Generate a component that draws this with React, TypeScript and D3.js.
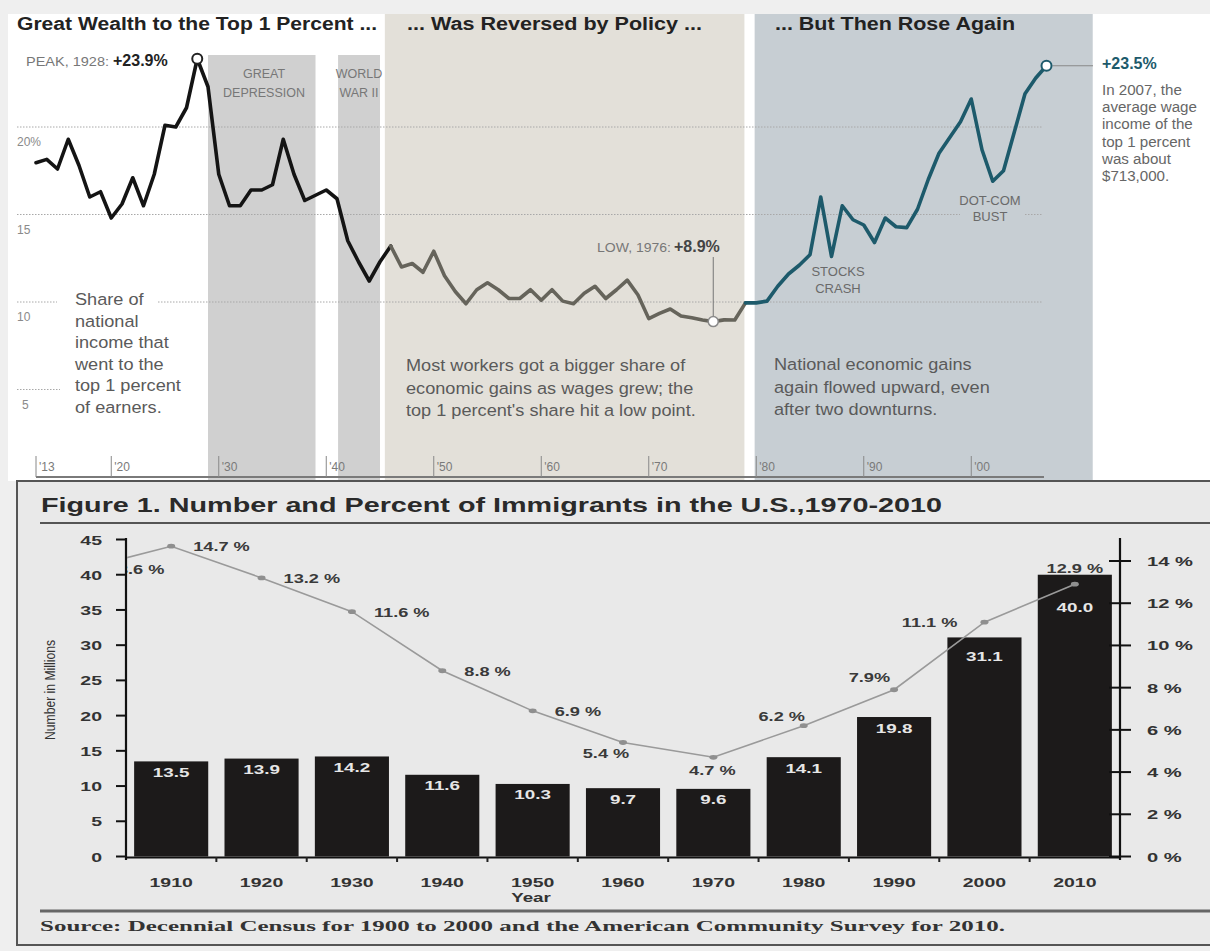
import React from 'react';
import * as d3 from 'd3';

// ---------- Top chart data: share of national income to top 1% ----------
const shareStartYear = 1913;
const topShare = [
  17.96, 18.15, 17.6, 19.3, 17.8, 16.0, 16.3, 14.8, 15.6, 17.1, // 1913-1922
  15.5, 17.3, 20.1, 20.0, 21.1, 23.9, 22.3, 17.3, 15.5, 15.5, // 1923-1932
  16.4, 16.4, 16.7, 19.3, 17.3, 15.8, 16.1, 16.4, 15.9, 13.5, // 1933-1942
  12.3, 11.2, 12.3, 13.2, 12.0, 12.2, 11.7, 12.9, 11.5, 10.6, // 1943-1952
  9.9, 10.7, 11.1, 10.7, 10.2, 10.2, 10.7, 10.1, 10.7, 10.05, // 1953-1962
  9.9, 10.5, 10.9, 10.2, 10.7, 11.25, 10.4, 9.05, 9.35, 9.6, // 1963-1972
  9.2, 9.1, 8.97, 8.88, 8.98, 8.97, 9.95, 9.95, 10.05, 10.9, // 1973-1982
  11.6, 12.1, 12.7, 16.0, 12.6, 15.5, 14.7, 14.4, 13.4, 14.8, // 1983-1992
  14.3, 14.25, 15.3, 17.0, 18.5, 19.4, 20.3, 21.6, 18.7, 16.9, // 1993-2002
  17.5, 19.7, 21.9, 22.8, 23.5, // 2003-2007
];
const topTickYears = [1913, 1920, 1930, 1940, 1950, 1960, 1970, 1980, 1990, 2000];
const topTickLabels = ["'13", "'20", "'30", "'40", "'50", "'60", "'70", "'80", "'90", "'00"];
const topGridValues = [20, 15, 10, 5];
const topGridLabels = ['20%', '15', '10', '5'];

// ---------- Bottom chart data: immigrants in the U.S. ----------
const immYears = ['1910', '1920', '1930', '1940', '1950', '1960', '1970', '1980', '1990', '2000', '2010'];
const immMillions = [13.5, 13.9, 14.2, 11.6, 10.3, 9.7, 9.6, 14.1, 19.8, 31.1, 40.0];
const pctYears = [1900, 1910, 1920, 1930, 1940, 1950, 1960, 1970, 1980, 1990, 2000, 2010];
const immPercent = [13.6, 14.7, 13.2, 11.6, 8.8, 6.9, 5.4, 4.7, 6.2, 7.9, 11.1, 12.9];
const pctLabels = ['13.6 %', '14.7 %', '13.2 %', '11.6 %', '8.8 %', '6.9 %', '5.4 %', '4.7 %', '6.2 %', '7.9%', '11.1 %', '12.9 %'];
const leftTicks = [0, 5, 10, 15, 20, 25, 30, 35, 40, 45];
const rightTicks = [0, 2, 4, 6, 8, 10, 12, 14];

const SANS = '"Liberation Sans", Arial, Helvetica, sans-serif';
const SERIF = '"Liberation Serif", "Times New Roman", serif';

function SText(props: any) {
  const { x, y, sx = 1, anchor = 'start', children, ...rest } = props;
  return (
    <text transform={`translate(${x},${y}) scale(${sx},1)`} textAnchor={anchor} {...rest}>
      {children}
    </text>
  );
}

export default function App() {
  // ---------- top scales ----------
  const topX = d3.scaleLinear().domain([1913, 2007]).range([36, 1046.5]);
  const topY = d3.scaleLinear().domain([5, 20]).range([389.5, 127]);
  const pts: [number, number][] = topShare.map((v, i) => [shareStartYear + i, v]);
  const line = d3
    .line<[number, number]>()
    .x((d) => topX(d[0]))
    .y((d) => topY(d[1]));
  const seg = (a: number, b: number) => line(pts.filter((d) => d[0] >= a && d[0] <= b)) || '';
  const val = (yr: number) => topShare[yr - shareStartYear];

  // ---------- bottom scales ----------
  const band = d3.scaleBand<string>().domain(immYears).range([126, 1120]).paddingInner(0.18).paddingOuter(0.09);
  const yL = d3.scaleLinear().domain([0, 45]).range([856.5, 539.5]);
  const yR = d3.scaleLinear().domain([0, 14]).range([856.5, 561]);
  const bw = band.bandwidth();
  const c1910 = (band('1910') as number) + bw / 2;
  const pctX = d3.scaleLinear().domain([1910, 2010]).range([c1910, c1910 + 10 * band.step()]);
  const pctLine = d3
    .line<number>()
    .x((_, i) => pctX(pctYears[i]))
    .y((d) => yR(d));

  // label placement for percent labels: [dx, dy, anchor]
  const pctPlace: Record<number, [number, number, string]> = {
    1900: [27, 5, 'start'],
    1910: [22, 5, 'start'],
    1920: [22, 5, 'start'],
    1930: [22, 5, 'start'],
    1940: [22, 5, 'start'],
    1950: [22, 5, 'start'],
    1960: [-17, 15, 'middle'],
    1970: [-1, 18, 'middle'],
    1980: [-22, -5, 'middle'],
    1990: [-4, -8, 'end'],
    2000: [-27, 5, 'end'],
    2010: [0, -11, 'middle'],
  };
  const valueLabelOffset: Record<string, number> = { '2000': 24, '2010': 37 };

  const panelBeige = '#e3e0d9';
  const panelBlue = '#c7ced3';
  const bandGray = '#d0d0d0';

  return (
    <svg
      width={1210}
      height={951}
      style={{ position: 'absolute', left: 0, top: 0, display: 'block' }}
      fontFamily={SANS}
    >
      <defs>
        <clipPath id="plotClip">
          <rect x={127} y={525} width={1000} height={340} />
        </clipPath>
      </defs>
      {/* page background */}
      <rect x={0} y={0} width={1210} height={951} fill="#efefef" />

      {/* ================= TOP CHART ================= */}
      <rect x={8} y={14} width={1202} height={467} fill="#ffffff" />
      {/* era panels */}
      <rect x={topX(1929)} y={55} width={topX(1939) - topX(1929)} height={426} fill={bandGray} />
      <rect x={topX(1941.1)} y={55} width={topX(1945) - topX(1941.1)} height={426} fill={bandGray} />
      <rect x={topX(1945.45)} y={14} width={topX(1978.9) - topX(1945.45)} height={467} fill={panelBeige} />
      <rect x={topX(1979.85)} y={14} width={topX(2011.3) - topX(1979.85)} height={467} fill={panelBlue} />

      {/* titles */}
      <text x={17} y={30} fontSize={18} fontWeight={800} fill="#222" textLength={360} lengthAdjust="spacingAndGlyphs">
        Great Wealth to the Top 1 Percent ...
      </text>
      <text x={407} y={30} fontSize={18} fontWeight={800} fill="#222" textLength={295} lengthAdjust="spacingAndGlyphs">
        ... Was Reversed by Policy ...
      </text>
      <text x={775} y={30} fontSize={18} fontWeight={800} fill="#222" textLength={240} lengthAdjust="spacingAndGlyphs">
        ... But Then Rose Again
      </text>

      {/* gridlines */}
      <line x1={17} x2={1043} y1={topY(20)} y2={topY(20)} stroke="#a8a8a8" strokeWidth={1} strokeDasharray="1.5,1.5" />
      <line x1={17} x2={1043} y1={topY(15)} y2={topY(15)} stroke="#a8a8a8" strokeWidth={1} strokeDasharray="1.5,1.5" />
      <line x1={17} x2={57} y1={topY(10)} y2={topY(10)} stroke="#a8a8a8" strokeWidth={1} strokeDasharray="1.5,1.5" />
      <line x1={158} x2={1043} y1={topY(10)} y2={topY(10)} stroke="#a8a8a8" strokeWidth={1} strokeDasharray="1.5,1.5" />
      <line x1={17} x2={60} y1={topY(5)} y2={topY(5)} stroke="#a8a8a8" strokeWidth={1} strokeDasharray="1.5,1.5" />
      {topGridValues.map((v, i) => (
        <text key={v} x={i === 3 ? 22 : 17} y={topY(v) + 19} fontSize={12} fill="#8a8a8a">
          {topGridLabels[i]}
        </text>
      ))}

      {/* x axis */}
      <line x1={36} x2={1044} y1={477} y2={477} stroke="#7a7a7a" strokeWidth={2} />
      {topTickYears.map((yr, i) => (
        <g key={yr}>
          <line x1={topX(yr)} x2={topX(yr)} y1={456} y2={477} stroke="#888" strokeWidth={1} />
          <text x={topX(yr) + 3} y={471} fontSize={12} fill="#7a7a7a">
            {topTickLabels[i]}
          </text>
        </g>
      ))}

      {/* era labels */}
      <g fontSize={12.5} fill="#777" textAnchor="middle">
        <text x={264} y={78}>GREAT</text>
        <text x={264} y={97}>DEPRESSION</text>
        <text x={359} y={78}>WORLD</text>
        <text x={359} y={97}>WAR II</text>
      </g>

      {/* annotations */}
      <text x={26} y={66} fontSize={12.5} fill="#777" textLength={83} lengthAdjust="spacingAndGlyphs">
        PEAK, 1928:
      </text>
      <text x={113} y={66} fontSize={16} fontWeight={700} fill="#222">
        +23.9%
      </text>
      <text x={597} y={252} fontSize={12.5} fill="#777" textLength={74} lengthAdjust="spacingAndGlyphs">
        LOW, 1976:
      </text>
      <text x={674} y={252} fontSize={16} fontWeight={700} fill="#444">
        +8.9%
      </text>
      <line x1={topX(1976)} x2={topX(1976)} y1={257} y2={topY(val(1976)) - 5} stroke="#777" strokeWidth={1} />

      <g fontSize={16.5} fill="#5a5a5a">
        {['Share of', 'national', 'income that', 'went to the', 'top 1 percent', 'of earners.'].map((t, i) => (
          <SText key={t} x={75} y={305 + i * 21.6} sx={1.1}>
            {t}
          </SText>
        ))}
        {['Most workers got a bigger share of', 'economic gains as wages grew; the', "top 1 percent's share hit a low point."].map(
          (t, i) => (
            <SText key={t} x={406} y={371 + i * 22.5} sx={1.1}>
              {t}
            </SText>
          )
        )}
        {['National economic gains', 'again flowed upward, even', 'after two downturns.'].map((t, i) => (
          <SText key={t} x={774} y={370 + i * 22.5} sx={1.1}>
            {t}
          </SText>
        ))}
      </g>

      <g fontSize={13} fill="#6a6a6a" textAnchor="middle">
        <text x={838} y={276}>STOCKS</text>
        <text x={838} y={293}>CRASH</text>
        <text x={990} y={205}>DOT-COM</text>
        <rect x={960} y={208} width={64} height={15} fill={panelBlue} />
        <text x={990} y={221}>BUST</text>
      </g>

      {/* right annotation */}
      <line x1={topX(2007) + 6} x2={1093} y1={topY(val(2007))} y2={topY(val(2007))} stroke="#888" strokeWidth={1} />
      <text x={1102} y={69} fontSize={16} fontWeight={700} fill="#1d5a6b">
        +23.5%
      </text>
      <g fontSize={14} fill="#666">
        {['In 2007, the', 'average wage', 'income of the', 'top 1 percent', 'was about', '$713,000.'].map((t, i) => (
          <SText key={t} x={1102} y={95 + i * 17.2} sx={1.08}>
            {t}
          </SText>
        ))}
      </g>

      {/* lines */}
      <path d={seg(1913, 1946)} fill="none" stroke="#141414" strokeWidth={3.6} strokeLinejoin="round" strokeLinecap="round" />
      <path d={seg(1946, 1979)} fill="none" stroke="#66645b" strokeWidth={3.6} strokeLinejoin="round" strokeLinecap="round" />
      <path d={seg(1979, 2007)} fill="none" stroke="#1d5a6b" strokeWidth={3.6} strokeLinejoin="round" strokeLinecap="round" />
      <circle cx={topX(1928)} cy={topY(val(1928))} r={5} fill="#fff" stroke="#222" strokeWidth={2} />
      <circle cx={topX(1976)} cy={topY(val(1976))} r={5} fill="#fff" stroke="#8a8a8a" strokeWidth={1.5} />
      <circle cx={topX(2007)} cy={topY(val(2007))} r={5} fill="#fff" stroke="#1d5a6b" strokeWidth={2} />

      {/* ================= BOTTOM CHART ================= */}
      <rect x={17} y={481} width={1200} height={464} fill="#e9e9e9" stroke="#555" strokeWidth={2} />
      <text x={41} y={512} fontSize={21} fontWeight={700} fill="#2a2a2a" textLength={901} lengthAdjust="spacingAndGlyphs">
        Figure 1. Number and Percent of Immigrants in the U.S.,1970-2010
      </text>
      <line x1={40} x2={1210} y1={523} y2={523} stroke="#555" strokeWidth={2} />

      {/* bars */}
      {immYears.map((yr, i) => (
        <rect key={yr} x={band(yr)} y={yL(immMillions[i])} width={bw} height={yL(0) - yL(immMillions[i])} fill="#1c1a1a" />
      ))}
      {immYears.map((yr, i) => (
        <SText
          key={yr}
          x={(band(yr) as number) + bw / 2}
          y={yL(immMillions[i]) + (valueLabelOffset[yr] ?? 15.5)}
          sx={1.45}
          anchor="middle"
          fontSize={13}
          fontWeight={700}
          fill="#e6e6e6"
        >
          {immMillions[i].toFixed(1)}
        </SText>
      ))}

      {/* left axis */}
      <line x1={126} x2={126} y1={538} y2={860} stroke="#111" strokeWidth={2.2} />
      {leftTicks.map((t) => (
        <g key={t}>
          <line x1={116} x2={126} y1={yL(t)} y2={yL(t)} stroke="#111" strokeWidth={2} />
          <SText x={102} y={yL(t) + 5} sx={1.5} anchor="end" fontSize={13} fontWeight={700} fill="#333">
            {t}
          </SText>
        </g>
      ))}
      <text
        transform="translate(55,690) rotate(-90)"
        textAnchor="middle"
        fontSize={15}
        fill="#333"
        textLength={100}
        lengthAdjust="spacingAndGlyphs"
      >
        Number in Millions
      </text>

      {/* right axis */}
      <line x1={1120} x2={1120} y1={538} y2={860} stroke="#111" strokeWidth={2.2} />
      {rightTicks.map((t) => (
        <g key={t}>
          <line x1={1109} x2={1131} y1={yR(t)} y2={yR(t)} stroke="#111" strokeWidth={2} />
          <SText x={1147} y={yR(t) + 5} sx={1.55} fontSize={13} fontWeight={700} fill="#333">
            {`${t} %`}
          </SText>
        </g>
      ))}

      {/* x axis */}
      <line x1={126} x2={1120} y1={857.5} y2={857.5} stroke="#111" strokeWidth={2.2} />
      {immYears.slice(1).map((yr) => (
        <line
          key={yr}
          x1={(band(yr) as number) - (band.step() - bw) / 2}
          x2={(band(yr) as number) - (band.step() - bw) / 2}
          y1={857}
          y2={862}
          stroke="#222"
          strokeWidth={2}
        />
      ))}
      {immYears.map((yr) => (
        <SText key={yr} x={(band(yr) as number) + bw / 2} y={887} sx={1.5} anchor="middle" fontSize={13} fontWeight={700} fill="#333">
          {yr}
        </SText>
      ))}
      <SText x={531} y={902} sx={1.5} anchor="middle" fontSize={12.5} fontWeight={700} fill="#333">
        Year
      </SText>

      {/* percent line */}
      <g clipPath="url(#plotClip)">
        <path d={pctLine(immPercent) || ''} fill="none" stroke="#9a9a9a" strokeWidth={1.6} />
        {immPercent.map((p, i) => (
          <ellipse key={i} cx={pctX(pctYears[i])} cy={yR(p)} rx={4} ry={2.4} fill="#8f8f8f" />
        ))}
        {immPercent.map((p, i) => {
          const [dx, dy, anchor] = pctPlace[pctYears[i]];
          return (
            <SText
              key={i}
              x={pctX(pctYears[i]) + dx}
              y={yR(p) + dy}
              sx={1.4}
              anchor={anchor}
              fontSize={13}
              fontWeight={700}
              fill="#3a3a3a"
            >
              {pctLabels[i]}
            </SText>
          );
        })}
      </g>

      {/* source */}
      <line x1={40} x2={1210} y1={911} y2={911} stroke="#666" strokeWidth={3} />
      <text x={40} y={931} fontFamily={SERIF} fontSize={15} fontWeight={700} fill="#333" textLength={965} lengthAdjust="spacingAndGlyphs">
        Source: Decennial Census for 1900 to 2000 and the American Community Survey for 2010.
      </text>
    </svg>
  );
}
